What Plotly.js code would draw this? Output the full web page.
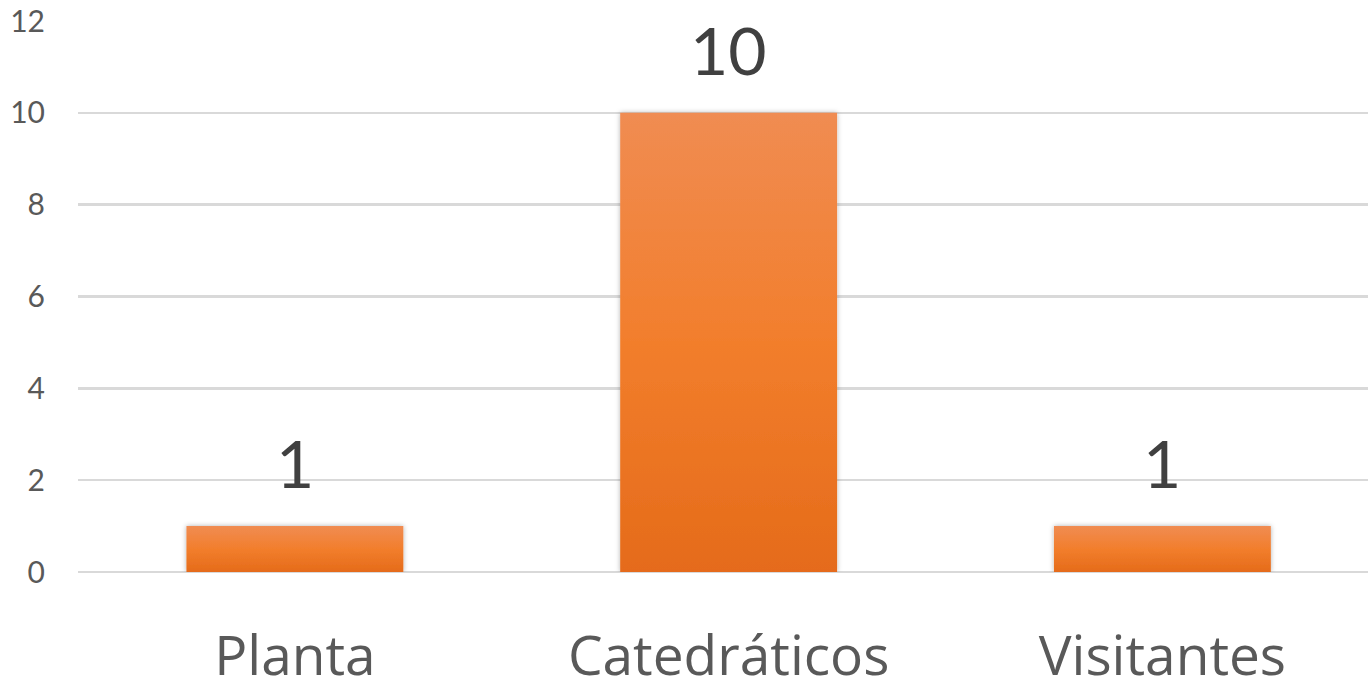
<!DOCTYPE html>
<html>
<head>
<meta charset="utf-8">
<script src="https://cdn.plot.ly/plotly-3.0.1.min.js"></script>
<style>html,body{margin:0;padding:0;background:#fff;}#chart{width:1368px;height:681px;}</style>
</head>
<body>
<div id="chart"></div>
<script>
const categories = ['Planta', 'Catedráticos', 'Visitantes'];
const values = [1, 10, 1];
const yTicks = [0, 2, 4, 6, 8, 10, 12];

const FONT = 'Lato, "Open Sans", sans-serif';
const CATFONT = '"Open Sans", Lato, sans-serif';

const trace = {
  type: 'bar',
  x: categories,
  y: values,
  width: 0.5,
  marker: {color: '#EF7B2C', line: {width: 0}},
  hoverinfo: 'none'
};

const annotations = categories.map((c, i) => ({
  x: c, y: values[i], xref: 'x', yref: 'y',
  text: String(values[i]), showarrow: false,
  yanchor: 'bottom', yshift: 22,
  font: {family: FONT, size: 66, color: '#404040'}
}));

const layout = {
  width: 1368, height: 681,
  margin: {l: 78, r: 0, t: 21, b: 109},
  paper_bgcolor: '#fff', plot_bgcolor: '#fff',
  showlegend: false,
  xaxis: {
    type: 'category', range: [-0.5, 2.474],
    showgrid: false, zeroline: false, showline: false,
    ticks: 'outside', ticklen: 36, tickcolor: 'rgba(0,0,0,0)',
    tickfont: {family: CATFONT, size: 55, color: '#595959'}
  },
  yaxis: {
    range: [0, 12], tickmode: 'array', tickvals: yTicks, ticktext: yTicks.map(String),
    showgrid: true, gridcolor: '#D9D9D9', gridwidth: 2.5,
    zeroline: true, zerolinecolor: '#D9D9D9', zerolinewidth: 2.5, showline: false,
    ticks: 'outside', ticklen: 26, tickcolor: 'rgba(0,0,0,0)',
    tickfont: {family: FONT, size: 30, color: '#595959'}
  },
  annotations: annotations
};

Plotly.newPlot('chart', [trace], layout, {displayModeBar: false, staticPlot: true}).then(gd => {
  const svg = gd.querySelector('svg.main-svg');
  const ns = 'http://www.w3.org/2000/svg';
  let defs = svg.querySelector('defs');
  if (!defs) { defs = document.createElementNS(ns, 'defs'); svg.insertBefore(defs, svg.firstChild); }
  const grad = document.createElementNS(ns, 'linearGradient');
  grad.setAttribute('id', 'barGrad');
  grad.setAttribute('x1', '0'); grad.setAttribute('y1', '0');
  grad.setAttribute('x2', '0'); grad.setAttribute('y2', '1');
  [['0%', '#F08C52'], ['50%', '#F27E2C'], ['100%', '#E56B1A']].forEach(([o, c]) => {
    const s = document.createElementNS(ns, 'stop');
    s.setAttribute('offset', o); s.setAttribute('stop-color', c);
    grad.appendChild(s);
  });
  defs.appendChild(grad);
  const filt = document.createElementNS(ns, 'filter');
  filt.setAttribute('id', 'barShadow');
  filt.setAttribute('x', '-10%'); filt.setAttribute('y', '-10%');
  filt.setAttribute('width', '120%'); filt.setAttribute('height', '120%');
  const fe = document.createElementNS(ns, 'feDropShadow');
  fe.setAttribute('dx', '0'); fe.setAttribute('dy', '0');
  fe.setAttribute('stdDeviation', '2.5'); fe.setAttribute('flood-color', '#000');
  fe.setAttribute('flood-opacity', '0.3');
  filt.appendChild(fe);
  defs.appendChild(filt);
  gd.querySelectorAll('.bars .point path').forEach(p => {
    p.style.fill = 'url(#barGrad)';
    p.setAttribute('filter', 'url(#barShadow)');
  });
});
</script>
</body>
</html>
